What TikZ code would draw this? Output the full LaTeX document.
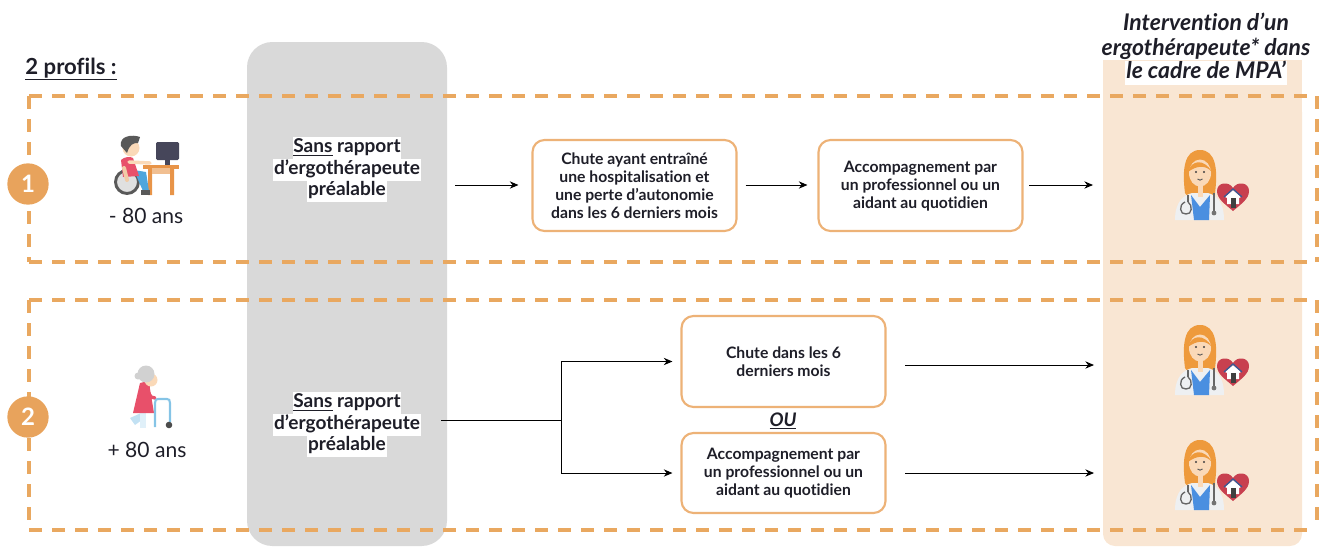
\documentclass[tikz,border=0pt]{standalone}
\usepackage{fontspec}
\setmainfont[Ligatures=NoCommon]{Lato}
\usetikzlibrary{arrows.meta}
\definecolor{dashor}{HTML}{E9A860}
\definecolor{boxor}{HTML}{EDB277}
\definecolor{beige}{HTML}{F9E6D3}
\definecolor{grayp}{HTML}{D9D9D9}
\definecolor{ink}{HTML}{1E1E28}
\definecolor{circ}{HTML}{E8A35C}
\definecolor{hairc}{HTML}{EE9A3C}
\definecolor{skin}{HTML}{FAD9B8}
\definecolor{scrub}{HTML}{4A8FE0}
\definecolor{coat}{HTML}{EEF0F2}
\definecolor{heartc}{HTML}{C8404F}
\definecolor{roofc}{HTML}{3C5A94}
\definecolor{pinkc}{HTML}{E8506A}
\definecolor{deskc}{HTML}{E89448}
\definecolor{jeans}{HTML}{4FA6DC}
\definecolor{monit}{HTML}{46465A}
\definecolor{walkc}{HTML}{85C4E6}
\newcommand{\fs}[1]{\fontsize{#1}{#1}\selectfont}
\tikzset{
  x=0.75pt,y=-0.75pt,
  dashbox/.style={draw=dashor,line width=2.3pt,dash pattern=on 9.75pt off 7.5pt},
  stepbox/.style={draw=boxor,line width=1.6pt,rounded corners=9pt,fill=white,align=center,text=ink,
    font=\fs{11.8}\bfseries,minimum width=153pt,inner sep=0pt},
  sanline/.style={fill=white,inner sep=0.6pt,text=ink,font=\fs{14.3}\bfseries,text height=11pt,text depth=3.6pt},
  headline/.style={inner sep=0.6pt,text=ink,font=\fs{17.2}\bfseries\itshape,text height=13pt,text depth=4.2pt},
  agelabel/.style={text=ink,font=\fs{15.8},inner sep=0pt},
  numdot/.style={circle,fill=circ,text=white,minimum size=31pt,inner sep=0pt,font=\fs{18}\bfseries},
  arr/.style={draw=black,line width=0.7pt,-{Stealth[length=6.5pt,width=5.5pt]}},
  conn/.style={draw=black,line width=0.7pt},
  pics/doctor/.style={code={
    \fill[hairc] (-15,8) .. controls (-18,-15) and (-16,-35) .. (0,-35) .. controls (16,-35) and (18,-15) .. (15,8) -- (9,16) -- (-9,16) -- cycle;
    \fill[coat] (-25,35) .. controls (-25,15) and (-15,10) .. (-8,8) -- (8,8) .. controls (15,10) and (24,15) .. (24,35) -- cycle;
    \fill[scrub] (-9,10) -- (-6,35) -- (9,35) -- (10,10) -- (0,22) -- cycle;
    \fill[skin] (-2.5,0) rectangle (2.5,12);
    \fill[skin] (0,-12) ellipse (11 and 13.5);
    \fill[hairc] (-12,-13) .. controls (-9,-25) and (4,-27) .. (12,-13) .. controls (6,-20) and (-3,-20) .. (-12,-13) -- cycle;
    \fill[black!75] (-4,-13) circle (1.1) (4,-13) circle (1.1);
    \draw[black!65,line width=0.7pt] (-2.5,-6) .. controls (-1,-4.5) and (1,-4.5) .. (2.5,-6);
    \draw[black!60,line width=1pt] (-12,10) -- (-12,17);
    \draw[black!60,line width=1pt] (-15,17) .. controls (-22,20) and (-20,30) .. (-14,29) .. controls (-8,30) and (-7,20) .. (-12,17);
    \draw[black!60,line width=1pt] (14,8) -- (14,27);
    \fill[black!55] (14,28) circle (2.4);
    \fill[heartc] (33,26) .. controls (25,19) and (17,14) .. (17,6) .. controls (17,-3) and (29,-4) .. (33,3) .. controls (37,-4) and (49,-3) .. (49,6) .. controls (49,14) and (41,19) .. (33,26) -- cycle;
    \fill[white] (33,5) -- (25,12) -- (27,13) -- (27,19) -- (39,19) -- (39,13) -- (41,12) -- cycle;
    \draw[roofc,line width=1pt] (24,12) -- (33,4) -- (42,12);
    \fill[black!75] (30.5,13) rectangle (35.5,23);
  }}
}
\begin{document}
\begin{tikzpicture}
\useasboundingbox (0,0) rectangle (1326,546);
% panels
\fill[grayp,rounded corners=19pt] (247,42) rectangle (447,546);
\fill[beige,rounded corners=9pt] (1103,100) rectangle (1302,546);
\fill[beige] (1103,60) rectangle (1302,120);
% dashed frames
\draw[dashbox] (29,96) -- (1317,96);
\draw[dashbox] (1317,96) -- (1317,262);
\draw[dashbox] (29,262) -- (1317,262);
\draw[dashbox] (29,96) -- (29,262);
\draw[dashbox] (29,300) -- (1317,300);
\draw[dashbox] (1317,300) -- (1317,530);
\draw[dashbox] (29,530) -- (1317,530);
\draw[dashbox] (29,300) -- (29,530);
% title and header
\node[inner sep=0pt,text=ink,font=\fs{16.6}\bfseries,anchor=base] (titre) at (71,74) {\underline{2 profils :}};
\node[headline] (h1) at (1206,25) {Intervention d’un};
\node[headline] (h2) at (1206,50) {ergothérapeute* dans};
\node[headline,fill=white] (h3) at (1206,73) {le cadre de MPA’};
% numbered dots
\node[numdot] (n1) at (28,184) {1};
\node[numdot] (n2) at (28,417) {2};
% wheelchair user at desk
\fill[monit,rounded corners=1pt] (156,142) rectangle (179,160);
\fill[monit] (165,160) rectangle (170,165);
\fill[deskc] (143,165) rectangle (179,168.5);
\fill[deskc] (148,168) rectangle (152,195) (170,168) rectangle (174,195);
\fill[deskc!60!white] (152,168) rectangle (170,174);
\draw[black!65,fill=black!12,line width=2.2pt] (127,182) circle (11.5);
\fill[jeans] (134,170) -- (146,172) -- (149,191) -- (143,191) -- (139,182) -- cycle;
\fill[black!65] (141,190) rectangle (150,195);
\fill[pinkc] (121,160) .. controls (124,157) and (130,156) .. (133,158) -- (139,176) -- (123,177) -- cycle;
\draw[skin,line width=2.6pt,line cap=round] (129,162) -- (150,163);
\draw[skin!85!brown,line width=3pt,line cap=round] (124,168) -- (127,180);
\fill[skin] (131,148) circle (8.5);
\fill[black!65] (121,146) .. controls (119,136) and (132,134) .. (140,137) -- (138,143) .. controls (133,143) and (130,144) .. (127,153) -- cycle;
\node[agelabel] (a1) at (146,216) {- 80 ans};
% elderly person with walker
\fill[walkc!50!white] (130,418) -- (141,413) -- (146,417) -- (135,425) -- cycle;
\fill[walkc!25!white] (140,413) rectangle (146,428);
\fill[pinkc] (140,383) .. controls (146,380) and (151,384) .. (150,389) -- (154,413) -- (133,413) -- cycle;
\draw[pinkc,line width=2.5pt,line cap=round] (146,388) -- (151,397) -- (155,398);
\draw[walkc,line width=1.6pt] (155,427) -- (155,403) .. controls (155,400) and (156,399) .. (158,399) -- (167,399) .. controls (169,399) and (170,400) .. (170,403) -- (170,422);
\fill[black!70] (169,425) circle (3.3);
\fill[skin] (151,380) circle (6.5);
\fill[black!18] (146,374) circle (8.5);
\fill[black!18] (138,376) circle (3.5);
\node[agelabel] (a2) at (147,450) {+ 80 ans};
% "Sans rapport" texts
\node[sanline] (s1a) at (347,148) {\underline{Sans} rapport};
\node[sanline] (s1b) at (347,170) {d’ergothérapeute};
\node[sanline] (s1c) at (347,191) {préalable};
\node[sanline] (s2a) at (347,403) {\underline{Sans} rapport};
\node[sanline] (s2b) at (347,425) {d’ergothérapeute};
\node[sanline] (s2c) at (347,446) {préalable};
% step boxes
\node[stepbox,minimum height=68.25pt] (b1) at (634.5,185.5) {\rule{0pt}{9pt}Chute ayant entraîné\\[1.6pt]une hospitalisation et\\[1.6pt]une perte d’autonomie\\[1.6pt]dans les 6 derniers mois};
\node[stepbox,minimum height=68.25pt] (b2) at (920.5,185.5) {\rule{0pt}{9pt}Accompagnement par\\[1.6pt]un professionnel ou un\\[1.6pt]aidant au quotidien};
\node[stepbox,minimum height=68.25pt] (b3) at (783.5,361.5) {\rule{0pt}{9pt}Chute dans les 6\\[1.6pt]derniers mois};
\node[stepbox,minimum height=60pt] (b4) at (783.5,473) {\rule{0pt}{9pt}Accompagnement par\\[1.6pt]un professionnel ou un\\[1.6pt]aidant au quotidien};
\node[inner sep=0pt,text=ink,font=\fs{14}\bfseries\itshape] (ou) at (783,421) {\underline{OU}};
% icons
\pic (d1) at (1200,185) {doctor};
\pic (d2) at (1200,360) {doctor};
\pic (d3) at (1200,475) {doctor};
% connector ends
\coordinate (c1) at (455,185);
\coordinate (e1) at (1093,185);
\coordinate (c2) at (441,420);
\coordinate (j) at (561,420);
\coordinate (e3) at (1094,365);
\coordinate (e4) at (1094,473);
\coordinate (f3) at (905,365);
\coordinate (f4) at (905,473);
\coordinate (f2) at (1029,185);
% connectors
\draw[arr,shorten >=9.75pt] (c1) -- (b1.west |- c1);
\draw[arr,shorten <=6pt,shorten >=7.5pt] (b1.east |- c1) -- (b2.west |- c1);
\draw[arr] (f2) -- (e1);
\draw[conn] (c2) -- (j);
\draw[arr,shorten >=6pt] (j) |- (b3.west);
\draw[arr,shorten >=6pt] (j) |- (b4.west);
\draw[arr] (f3) -- (e3);
\draw[arr] (f4) -- (e4);
\end{tikzpicture}
\end{document}
